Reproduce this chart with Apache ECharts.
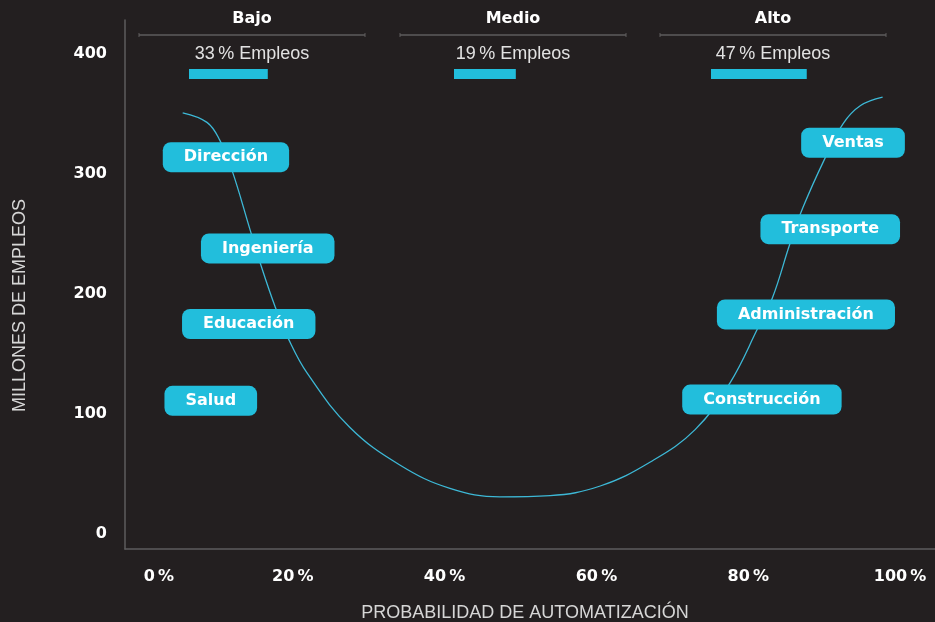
<!DOCTYPE html>
<html>
<head>
<meta charset="utf-8">
<script src="https://cdn.jsdelivr.net/npm/echarts@6/dist/echarts.min.js"></script>
<style>
html,body{margin:0;padding:0;background:#231f20;}
#chart{width:935px;height:622px;}
</style>
</head>
<body>
<div id="chart"></div>
<script>
// curva: probabilidad de automatización (%) -> millones de empleos
const curveX = [5.5, 8.7, 10.4, 12.0, 14.4, 15.7, 17.7, 19.4, 21.9, 27.5, 34.1, 40.7, 47.3, 53.9, 60.5, 67.1, 73.0, 77.6, 81.3, 83.2, 85.5, 87.2, 90.1, 92.5, 94.8, 97.7];
const curveY = [351, 343, 328, 303, 253, 226, 189, 163, 134, 89, 57.5, 38, 31, 32, 40, 60, 87, 126, 172, 197, 242, 272, 313, 342, 357, 364];

// sectores (anclados en coordenadas de datos)
const sectorNames = ['Dirección', 'Ingeniería', 'Educación', 'Salud', 'Ventas', 'Transporte', 'Administración', 'Construcción'];
const sectorX = [11.2, 16.7, 14.2, 9.2, 93.8, 90.8, 87.6, 81.8];
const sectorY = [314, 238, 175, 111, 326, 254, 183, 112];

// grupos de riesgo
const groupNames = ['Bajo', 'Medio', 'Alto'];
const groupShares = [33, 19, 47];

const xTicks = [0, 20, 40, 60, 80, 100];
const yTicks = [0, 100, 200, 300, 400];

const CYAN = '#22bedc';
const GREY = '#5e5c5d';
const BOLD_FONT = 'DejaVu Sans';
const THIN_FONT = 'Liberation Sans';

// cabeceras (posición de cada grupo)
const groupCenter = [252, 513, 773];
const groupBarLeft = [189, 454, 711];

const chart = echarts.init(document.getElementById('chart'));

const grids = [{left: 125, top: 20, right: 0, bottom: 73, outerBoundsMode: 'none'}];
const xAxes = [{
    type: 'value', min: -2.1, max: 104.6,
    axisLine: {show: true, onZero: false, lineStyle: {color: GREY, width: 1.5}},
    axisTick: {show: false},
    splitLine: {show: false},
    axisLabel: {
        customValues: xTicks, margin: 20,
        color: '#fff', fontSize: 16, fontWeight: 'bold', fontFamily: BOLD_FONT,
        formatter: v => v === 0 ? '{z|0\u2009%}' : v + '\u2009%',
        rich: {z: {padding: [0, 0, 0, 36], color: '#fff', fontSize: 16, fontWeight: 'bold', fontFamily: BOLD_FONT}}
    },
    name: 'PROBABILIDAD DE AUTOMATIZACIÓN',
    nameLocation: 'middle', nameGap: 55,
    nameTextStyle: {color: '#d6d6d6', fontSize: 18, fontFamily: THIN_FONT, fontWeight: 'normal', padding: [0, 10, 0, 0]}
}];
const yAxes = [{
    type: 'value', min: -12.5, max: 428.3,
    axisLine: {show: true, onZero: false, lineStyle: {color: GREY, width: 1.5}},
    axisTick: {show: false},
    splitLine: {show: false},
    axisLabel: {
        customValues: yTicks, margin: 18,
        color: '#fff', fontSize: 16, fontWeight: 'bold', fontFamily: BOLD_FONT
    },
    name: 'MILLONES DE EMPLEOS',
    nameLocation: 'middle', nameGap: 96,
    nameTextStyle: {color: '#d6d6d6', fontSize: 18, fontFamily: THIN_FONT, fontWeight: 'normal', padding: [0, 42, 0, 0]}
}];

const series = [{
    type: 'line',
    data: curveX.map((x, i) => [x, curveY[i]]),
    smooth: 0.4,
    showSymbol: false,
    lineStyle: {color: '#3db8d6', width: 1.3},
    z: 2,
    silent: true
}, {
    type: 'scatter',
    data: sectorNames.map((n, i) => ({name: n, value: [sectorX[i], sectorY[i]]})),
    symbolSize: 1,
    itemStyle: {color: 'rgba(0,0,0,0)', opacity: 1},
    label: {
        show: true, position: 'inside',
        formatter: p => p.name,
        backgroundColor: CYAN, borderRadius: 8,
        padding: [8, 21, 6, 21],
        color: '#fff', fontSize: 16, lineHeight: 16, fontWeight: 'bold', fontFamily: BOLD_FONT
    },
    z: 3,
    silent: true
}];

// barras de % de empleos por grupo
groupNames.forEach((g, i) => {
    grids.push({left: groupBarLeft[i], top: 69, width: 160, height: 10, outerBoundsMode: 'none'});
    xAxes.push({type: 'value', gridIndex: i + 1, min: -32, max: 100, startValue: -32, show: false});
    yAxes.push({type: 'category', gridIndex: i + 1, data: [g], show: false});
    series.push({
        type: 'bar', xAxisIndex: i + 1, yAxisIndex: i + 1,
        data: [groupShares[i]], barWidth: 10,
        itemStyle: {color: CYAN}, silent: true
    });
});

const graphic = [];
groupNames.forEach((g, i) => {
    const cx = groupCenter[i];
    graphic.push({
        type: 'text', x: cx, y: 19,
        style: {text: g, fill: '#fff', font: 'bold 16px "' + BOLD_FONT + '"', align: 'center', verticalAlign: 'middle'}
    });
    graphic.push({
        type: 'line', shape: {x1: cx - 113, y1: 35, x2: cx + 113, y2: 35},
        style: {stroke: GREY, lineWidth: 1.5}
    });
    [cx - 113, cx + 113].forEach(ex => graphic.push({
        type: 'line', shape: {x1: ex, y1: 33, x2: ex, y2: 37},
        style: {stroke: GREY, lineWidth: 1}
    }));
    graphic.push({
        type: 'text', x: cx, y: 54,
        style: {text: groupShares[i] + '\u2009% Empleos', fill: '#e2e2e2', font: '18px "' + THIN_FONT + '"', align: 'center', verticalAlign: 'middle'}
    });
});

chart.setOption({
    backgroundColor: '#231f20',
    animation: false,
    grid: grids,
    xAxis: xAxes,
    yAxis: yAxes,
    series: series,
    graphic: graphic
});
</script>
</body>
</html>
